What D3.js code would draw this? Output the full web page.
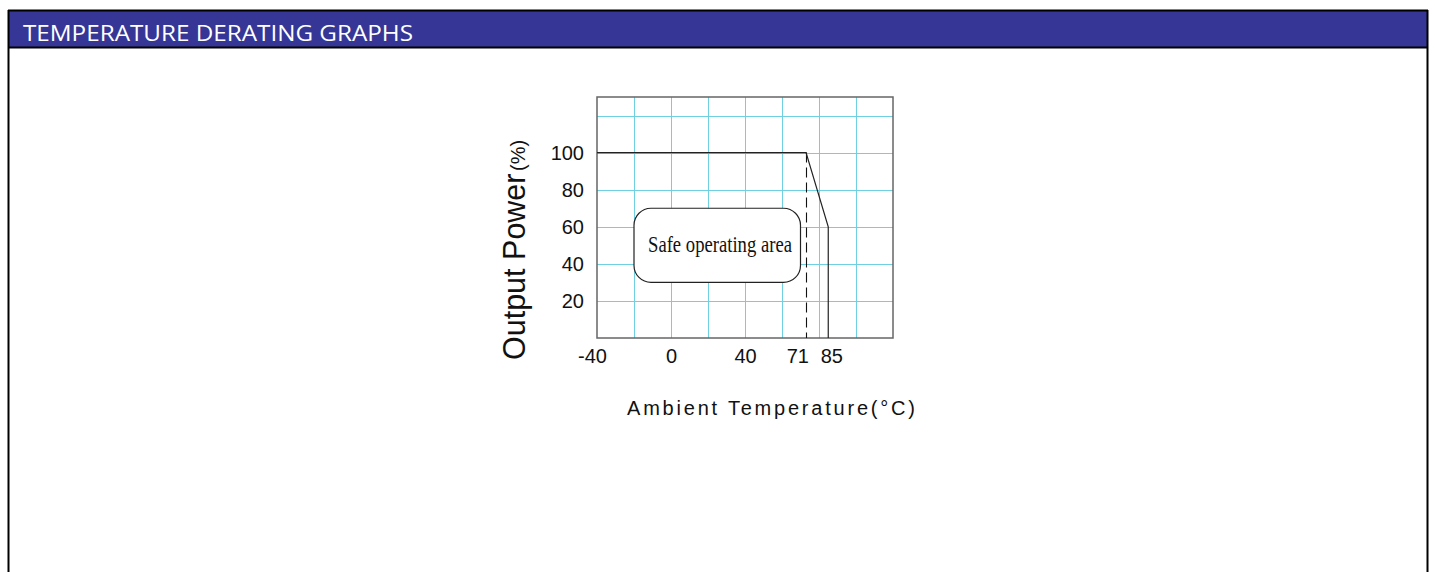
<!DOCTYPE html>
<html>
<head>
<meta charset="utf-8">
<script src="https://cdn.jsdelivr.net/npm/d3@7/dist/d3.min.js"></script>
<style>
  html, body { margin: 0; padding: 0; background: #ffffff; }
  svg { display: block; }
</style>
</head>
<body>
<svg id="chart" width="1435" height="572"></svg>
<script>
// ---- data ----
const titleText = "TEMPERATURE DERATING GRAPHS";
const xTickValues = [-40, 0, 40, 71, 85];
const xTickLabels = ["-40", "0", "40", "71", "85"];
const yTickValues = [20, 40, 60, 80, 100];
const xGridValues = [-20, 0, 20, 40, 60, 80, 100];
const yGridValues = [20, 40, 60, 80, 100, 120];
const xDomain = [-40, 120];
const yDomain = [0, 130];
const curveTemps = [-40, 73, 85, 85];
const curvePower = [100, 100, 60, 0];
const dashedTemp = [73, 73];
const dashedPower = [100, 0];
const safeBoxTemps = [-20, 70];
const safeBoxPower = [30, 70];
const safeLabel = "Safe operating area";
const xTitle = "Ambient Temperature(°C)";
const yTitleMain = "Output Power ";
const yTitleUnit = "(%)";

// ---- layout ----
const svg = d3.select("#chart");
const W = 1435, H = 572;

// frame + header
svg.append("rect").attr("x", 9).attr("y", 11).attr("width", 1418).attr("height", 36)
  .attr("fill", "#363697");
svg.append("line").attr("x1", 8.5).attr("x2", 8.5).attr("y1", 10).attr("y2", H).attr("stroke", "#000").attr("stroke-width", 2);
svg.append("line").attr("x1", 1427.5).attr("x2", 1427.5).attr("y1", 10).attr("y2", H).attr("stroke", "#000").attr("stroke-width", 2);
svg.append("line").attr("x1", 8).attr("x2", 1428).attr("y1", 10.5).attr("y2", 10.5).attr("stroke", "#000").attr("stroke-width", 2);
svg.append("line").attr("x1", 8).attr("x2", 1428).attr("y1", 47.5).attr("y2", 47.5).attr("stroke", "#000").attr("stroke-width", 2);
svg.append("text").attr("x", 23).attr("y", 41)
  .attr("font-family", "'Open Sans', sans-serif").attr("font-size", 21)
  .attr("fill", "#ffffff")
  .attr("textLength", 390).attr("lengthAdjust", "spacingAndGlyphs")
  .text(titleText);

// plot
const pLeft = 597, pRight = 893, pTop = 97, pBottom = 338;
const x = d3.scaleLinear().domain(xDomain).range([pLeft, pRight]);
const y = d3.scaleLinear().domain(yDomain).range([pBottom, pTop]);

const grid = svg.append("g").attr("stroke", "#6fd0e2").attr("stroke-width", 1);
grid.selectAll(".vx").data(xGridValues).join("line")
  .attr("x1", d => Math.round(x(d)) + 0.5).attr("x2", d => Math.round(x(d)) + 0.5)
  .attr("y1", pTop).attr("y2", pBottom);
grid.selectAll(".hy").data(yGridValues).join("line")
  .attr("y1", d => Math.round(y(d)) + 0.5).attr("y2", d => Math.round(y(d)) + 0.5)
  .attr("x1", pLeft).attr("x2", pRight);

// plot frame
svg.append("rect").attr("x", pLeft).attr("y", pTop).attr("width", pRight - pLeft).attr("height", pBottom - pTop)
  .attr("fill", "none").attr("stroke", "#666").attr("stroke-width", 1.5);

// safe operating box
svg.append("rect")
  .attr("x", x(safeBoxTemps[0])).attr("y", y(safeBoxPower[1]))
  .attr("width", x(safeBoxTemps[1]) - x(safeBoxTemps[0]))
  .attr("height", y(safeBoxPower[0]) - y(safeBoxPower[1]))
  .attr("rx", 17).attr("ry", 17)
  .attr("fill", "#ffffff").attr("stroke", "#222").attr("stroke-width", 1.2);
svg.append("text")
  .attr("x", x(safeBoxTemps[0]) + 14).attr("y", (y(safeBoxPower[0]) + y(safeBoxPower[1])) / 2 + 7)
  .attr("font-family", "'Liberation Serif', 'Times New Roman', serif").attr("font-size", 22.5)
  .attr("fill", "#111")
  .attr("textLength", 144).attr("lengthAdjust", "spacingAndGlyphs")
  .text(safeLabel);

// dashed line
svg.append("path")
  .datum(dashedTemp.map((t, i) => [t, dashedPower[i]]))
  .attr("d", d3.line().x(d => Math.round(x(d[0])) + 0.5).y(d => y(d[1])))
  .attr("fill", "none").attr("stroke", "#111").attr("stroke-width", 1.1)
  .attr("stroke-dasharray", "10,5");

// derating curve
svg.append("path")
  .datum(curveTemps.map((t, i) => [t, curvePower[i]]))
  .attr("d", d3.line().x(d => x(d[0])).y(d => y(d[1])))
  .attr("fill", "none").attr("stroke", "#222").attr("stroke-width", 1.2);

// axes labels
const xAxis = d3.axisBottom(x).tickValues(xTickValues)
  .tickFormat((d, i) => xTickLabels[i]).tickSize(0).tickPadding(11);
const gx = svg.append("g").attr("transform", `translate(0,${pBottom})`).call(xAxis);
gx.select(".domain").remove();
gx.selectAll("text").attr("font-family", "'Liberation Sans', Arial, sans-serif")
  .attr("font-size", 20).attr("fill", "#111")
  .attr("dx", (d) => d === 71 ? -5 : (d === -40 ? -5 : (d === 85 ? 3 : 0)));

const yAxis = d3.axisLeft(y).tickValues(yTickValues).tickSize(0).tickPadding(13);
const gy = svg.append("g").attr("transform", `translate(${pLeft},0)`).call(yAxis);
gy.select(".domain").remove();
gy.selectAll("text").attr("font-family", "'Liberation Sans', Arial, sans-serif")
  .attr("font-size", 20).attr("fill", "#111");

// axis titles
svg.append("text").attr("x", 627).attr("y", 415)
  .attr("font-family", "'Liberation Sans', Arial, sans-serif").attr("font-size", 20)
  .attr("fill", "#111")
  .attr("textLength", 288).attr("lengthAdjust", "spacing")
  .text(xTitle);

const yt = svg.append("text").attr("transform", "translate(525,360) rotate(-90)")
  .attr("font-family", "'Liberation Sans', Arial, sans-serif").attr("fill", "#111");
yt.append("tspan").attr("font-size", 30.5).text(yTitleMain);
yt.append("tspan").attr("font-size", 20).attr("dx", -6).text(yTitleUnit);
</script>
</body>
</html>
